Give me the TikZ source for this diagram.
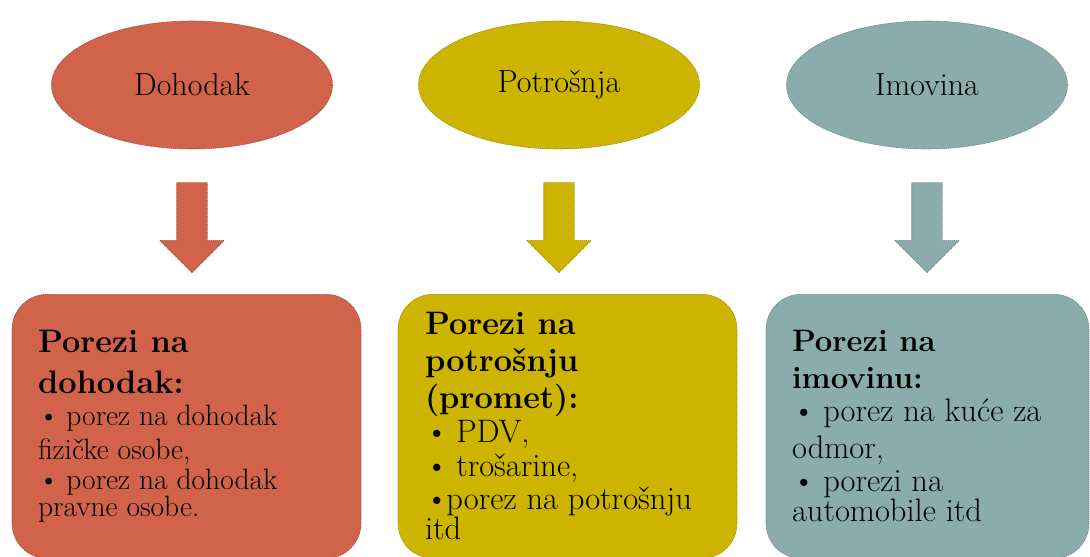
\documentclass[tikz,border=0pt]{standalone}
\usepackage{xcolor}
\usepackage{tikz}
\usetikzlibrary{shapes}
\usetikzlibrary{arrows}
\usetikzlibrary{positioning}
\definecolor{dohodak}{RGB}{208,99,74}
\definecolor{potrosnja}{RGB}{204,180,0}
\definecolor{imovina}{RGB}{138,172,172}
\newcommand{\velicina}[2]{\fontsize{#1}{#2}\selectfont\spaceskip=0pt\xspaceskip=0pt}
\newcommand{\tocka}{\kern-.12em\textbullet\kern-.06em}
\tikzset{
  main node/.style={ellipse,fill=#1,draw=#1!75!black,dash pattern=on 1.2pt off 0.8pt,line width=0.6pt,
    minimum width=281pt,minimum height=128pt,inner sep=0pt,font=\fontsize{32}{36}\selectfont},
  arrow node/.style={single arrow,shape border rotate=270,fill=#1,draw=#1!75!black,dash pattern=on 1.2pt off 0.8pt,
    line width=0.6pt,inner sep=15pt,minimum height=90pt,single arrow head extend=17pt,single arrow tip angle=90},
  tax node/.style={rectangle,rounded corners=35pt,fill=#1,draw=#1!75!black,dash pattern=on 1.2pt off 0.8pt,
    line width=0.6pt,align=left,inner xsep=26pt,inner ysep=0pt,minimum height=264pt}
}
\begin{document}
\begin{tikzpicture}[x=1pt,y=1pt]
	\useasboundingbox (0,0) rectangle (1090,557);
	% gornji red
	\node [main node=dohodak] (1) at (192,472) {Dohodak};
	\node [main node=potrosnja] (2) at (559,472) {Potrošnja};
	\node [main node=imovina] (3) at (927,472) {Imovina};
	% strelice
	\node [arrow node=dohodak,below=33pt of 1] (a1) {};
	\node [arrow node=potrosnja,below=33pt of 2] (a2) {};
	\node [arrow node=imovina,below=33pt of 3] (a3) {};
	% porezi
	\node [tax node=dohodak,text width=297pt,below=21pt of a1,xshift=-5.5pt] (4)
	  {\velicina{32.5}{37}\textbf{Porezi na}\\[3.5pt]\textbf{dohodak:}\\[2.5pt]
	   \velicina{29.5}{33.5}\tocka{} porez na dohodak\\fizičke osobe,\\
	   \tocka{} porez na dohodak\\pravne osobe.};
	\node [tax node=potrosnja,text width=285pt,inner xsep=27pt,below=21pt of a2,xshift=8.5pt] (5)
	  {\velicina{32.5}{37}\textbf{Porezi na}\\\textbf{potrošnju}\\\textbf{(promet):}\\
	   \velicina{32.5}{37.5}\tocka{} PDV,\\\tocka{} trošarine,\\
	   \tocka porez na potrošnju\\itd};
	\node [tax node=imovina,text width=271pt,below=21pt of a3,xshift=0.5pt] (6)
	  {\velicina{31}{37}\textbf{Porezi na}\\\textbf{imovinu:}\\
	   \velicina{32.5}{37}\tocka{} porez na kuće za\\odmor,\\
	   \tocka{} porezi na\\automobile itd};
\end{tikzpicture}
\end{document}
